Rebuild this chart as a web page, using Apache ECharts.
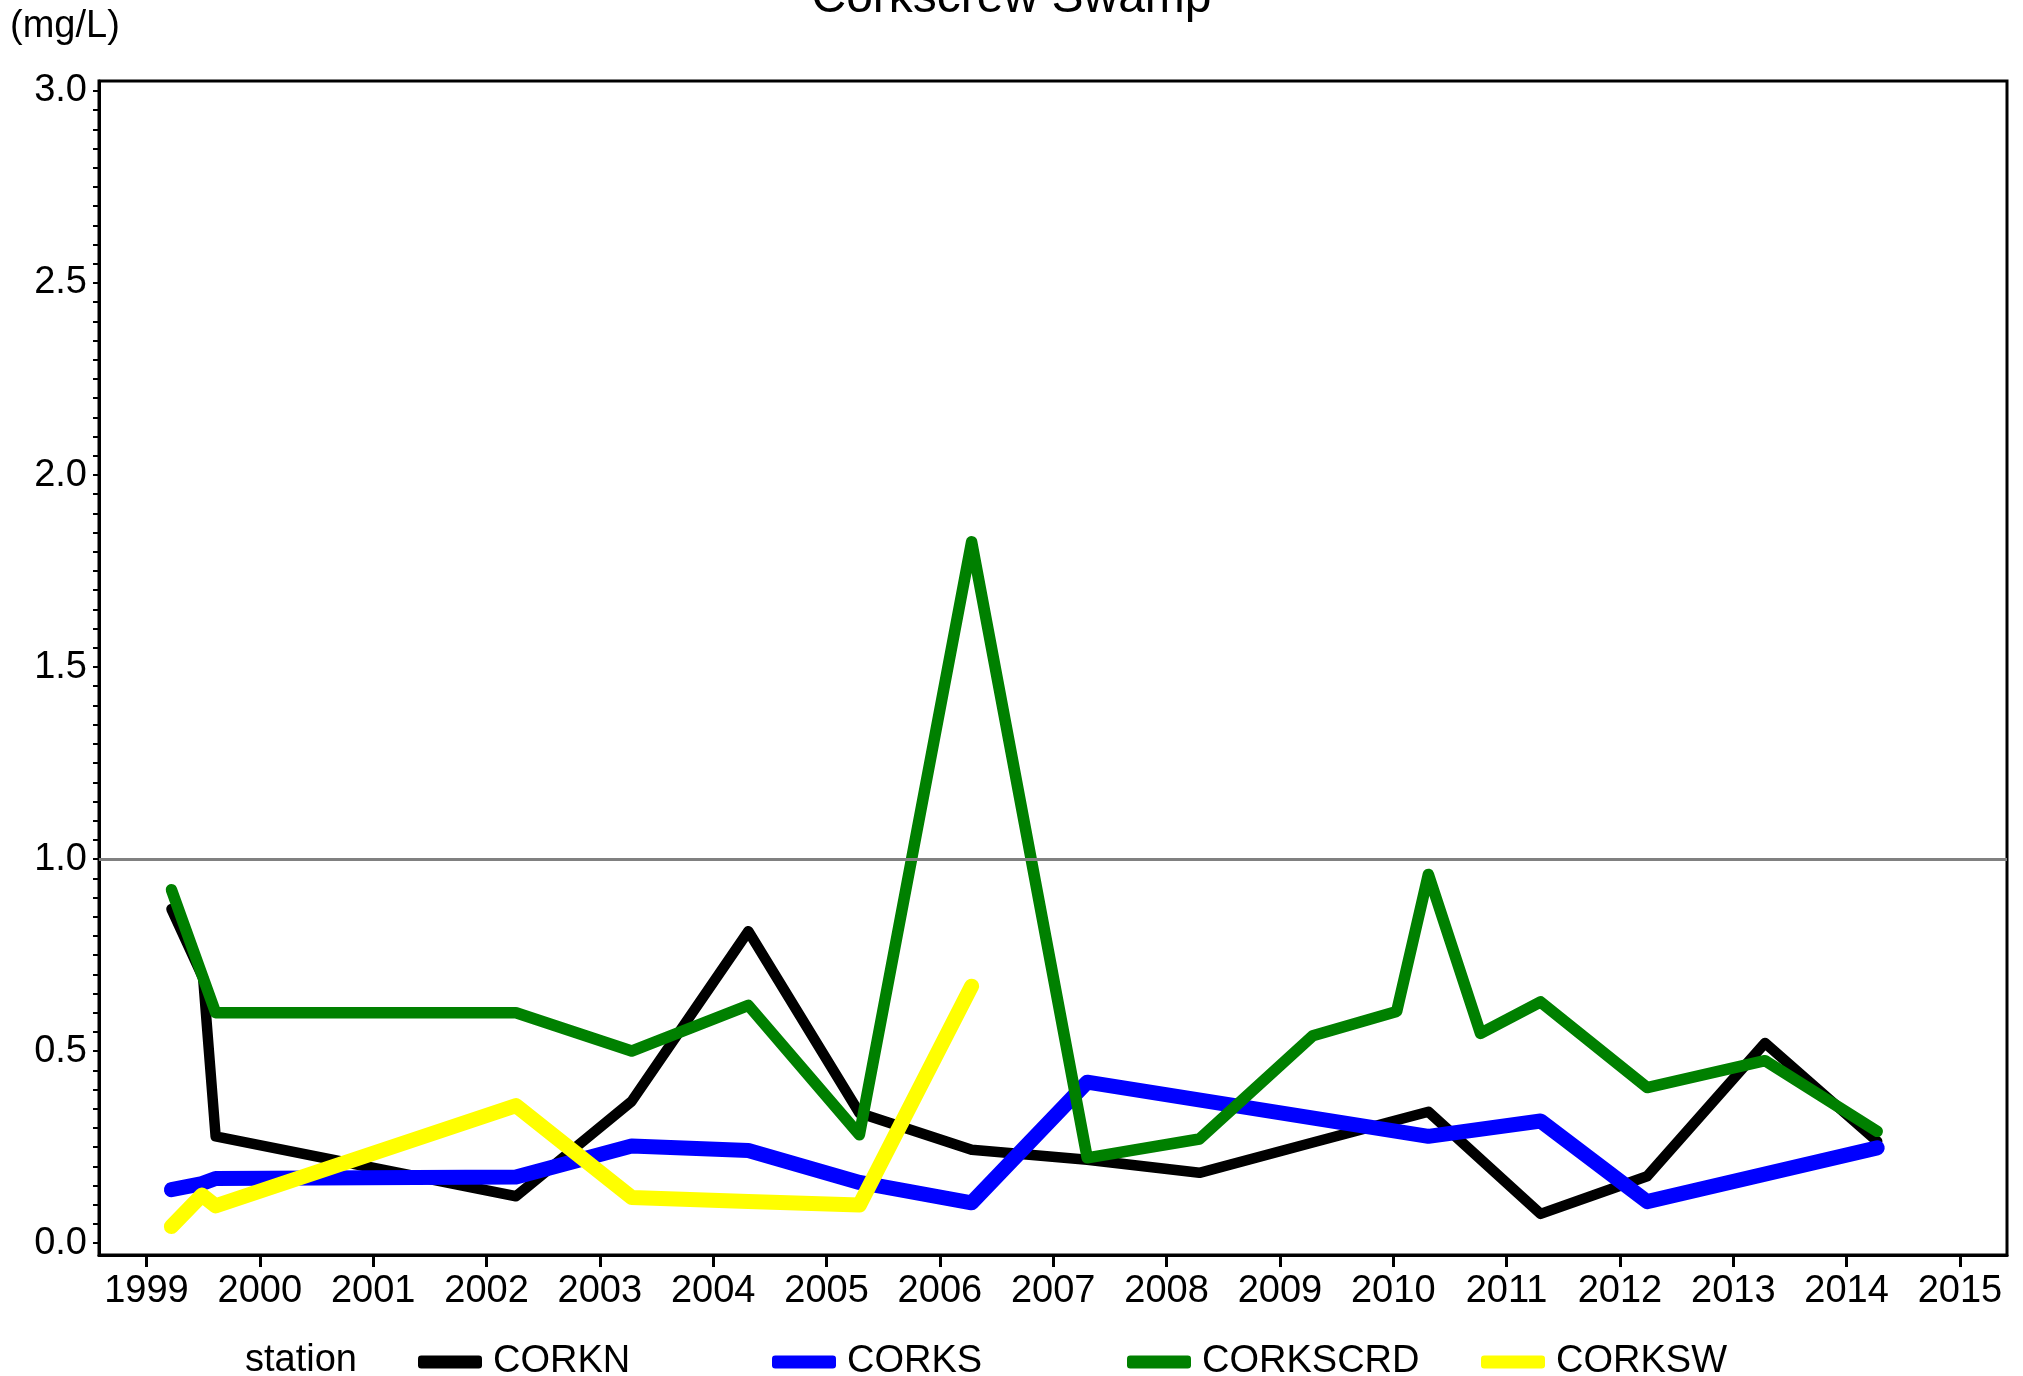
<!DOCTYPE html>
<html>
<head>
<meta charset="utf-8">
<script src="https://cdn.jsdelivr.net/npm/echarts@6/dist/echarts.min.js"></script>
<style>
html,body{margin:0;padding:0;background:#fff;}
#chart{width:2023px;height:1376px;}
</style>
</head>
<body>
<div id="chart"></div>
<script>
// ---- Data (decimal year, mg/L) ----
const corknX   = [1999.22, 1999.50, 1999.61, 2002.26, 2003.28, 2004.31, 2005.29, 2006.28, 2007.30, 2008.29, 2009.29, 2010.31, 2011.30, 2012.24, 2013.28, 2014.27];
const corknY   = [0.870,   0.690,   0.278,   0.122,   0.369,   0.812,   0.339,   0.243,   0.217,   0.183,   0.262,   0.342,   0.076,   0.174,   0.521,   0.265];

const corksX   = [1999.22, 1999.49, 1999.61, 2002.26, 2003.28, 2004.31, 2005.29, 2006.28, 2007.30, 2010.31, 2011.30, 2012.24, 2014.27];
const corksY   = [0.139,   0.155,   0.168,   0.172,   0.253,   0.241,   0.158,   0.105,   0.419,   0.278,   0.318,   0.108,   0.248];

const corkscrdX = [1999.22, 1999.61, 2002.26, 2003.28, 2004.31, 2005.29, 2006.28, 2007.30, 2008.29, 2009.29, 2010.03, 2010.31, 2010.77, 2011.30, 2012.24, 2013.28, 2014.27];
const corkscrdY = [0.920,   0.600,   0.600,   0.500,   0.619,   0.282,   1.826,   0.222,   0.271,   0.540,   0.603,   0.960,   0.546,   0.628,   0.405,   0.475,   0.291];

const corkswX  = [1999.22, 1999.49, 1999.61, 2002.26, 2003.28, 2004.31, 2005.29, 2006.28];
const corkswY  = [0.043,   0.125,   0.097,   0.358,   0.119,   0.108,   0.099,   0.669];

const stations = ['CORKN', 'CORKS', 'CORKSCRD', 'CORKSW'];
const stationColors = ['#000000', '#0000FF', '#008000', '#FFFF00'];
const lineWidths = [10.5, 15, 11.5, 15];

const yearTicks = [1999,2000,2001,2002,2003,2004,2005,2006,2007,2008,2009,2010,2011,2012,2013,2014,2015];
const yMajorTicks = [0, 0.5, 1.0, 1.5, 2.0, 2.5, 3.0];
const yMinorStep = 0.05;
const referenceLevel = 1.0;

const titleText = 'Corkscrew Swamp';
const unitText = '(mg/L)';
const legendTitle = 'station';

// ---- build ----
const yMinorTicks = [];
for (let i = 0; i <= 60; i++) yMinorTicks.push(+(i * yMinorStep).toFixed(2));

function pairs(xs, ys){ return xs.map((x,i)=>[x, ys[i]]); }
const seriesData = [pairs(corknX,corknY), pairs(corksX,corksY), pairs(corkscrdX,corkscrdY), pairs(corkswX,corkswY)];

const FONT = "'Liberation Sans', Arial, sans-serif";
const FS = 38;

const series = [{
  type: 'line', name: '_ref', data: [], silent: true,
  markLine: {
    silent: true, symbol: 'none', label: {show:false},
    lineStyle: {color:'#808080', width:3, type:'solid'},
    emphasis: {disabled: true},
    data: [{yAxis: referenceLevel}]
  }
}];
stations.forEach((s, i) => {
  series.push({
    type: 'line', name: s, data: seriesData[i],
    showSymbol: false, symbol: 'none',
    lineStyle: {color: stationColors[i], width: lineWidths[i], cap: 'round', join: 'round'},
    itemStyle: {color: stationColors[i]},
    emphasis: {disabled: true},
    z: 2 + i
  });
});

const legendLefts = [413, 767, 1122, 1476];
const legends = stations.map((s, i) => ({
  data: [{name: s, icon: 'roundRect'}],
  left: legendLefts[i], top: 1338,
  itemWidth: 64, itemHeight: 13,
  selectedMode: false,
  textStyle: {fontFamily: FONT, fontSize: FS, color: '#000', padding: [0,0,0,6]}
}));

const chart = echarts.init(document.getElementById('chart'), null, {renderer: 'canvas'});
chart.setOption({
  animation: false,
  backgroundColor: '#fff',
  grid: {left: 99, top: 81, width: 1908, height: 1174, show: true, borderColor: '#000', borderWidth: 3, containLabel: false},
  legend: legends,
  graphic: [
    {type: 'text', left: 'center', style: {text: titleText, x: 0, y: 0, font: '48px ' + FONT, fill: '#000'}, top: -25},
    {type: 'text', style: {text: unitText, x: 10, y: 27, textVerticalAlign: 'middle', font: FS + 'px ' + FONT, fill: '#000'}},
    {type: 'text', style: {text: legendTitle, x: 245, y: 1361, textVerticalAlign: 'middle', font: FS + 'px ' + FONT, fill: '#000'}}
  ],
  xAxis: {
    type: 'value', min: 1998.581, max: 2015.415,
    splitLine: {show: false},
    axisLine: {show: true, onZero: false, lineStyle: {color: '#000', width: 3}},
    axisTick: {show: true, inside: false, length: 12, lineStyle: {color: '#000', width: 3}, customValues: yearTicks},
    axisLabel: {show: true, customValues: yearTicks, margin: 18, fontFamily: FONT, fontSize: FS, color: '#000', formatter: v => String(Math.round(v))}
  },
  yAxis: {
    type: 'value', min: -0.031, max: 3.026,
    splitLine: {show: false},
    axisLine: {show: true, onZero: false, lineStyle: {color: '#000', width: 3}},
    axisTick: {show: true, inside: false, length: 6, lineStyle: {color: '#000', width: 2}, customValues: yMinorTicks},
    axisLabel: {show: true, customValues: yMajorTicks, margin: 12, fontFamily: FONT, fontSize: FS, color: '#000', padding: [0,0,26,0], formatter: v => v.toFixed(1)}
  },
  series: series
});
</script>
</body>
</html>
